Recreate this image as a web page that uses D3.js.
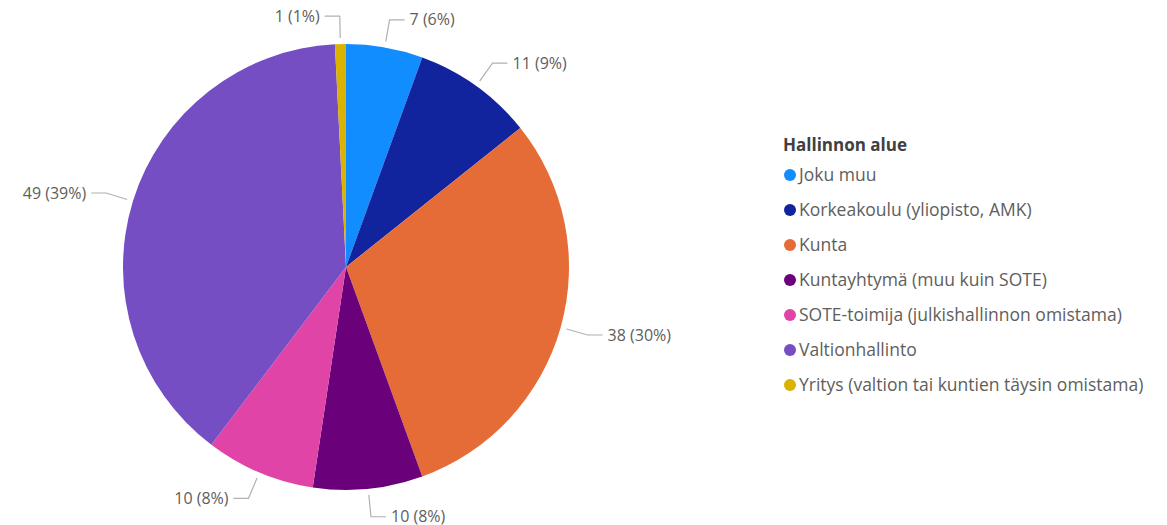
<!DOCTYPE html>
<html>
<head>
<meta charset="utf-8">
<script src="https://cdn.jsdelivr.net/npm/d3@7"></script>
<style>
  html, body { margin: 0; padding: 0; background: #fff; }
  svg { display: block; font-family: "Open Sans", "Noto Sans", sans-serif; }
</style>
</head>
<body>
<svg id="chart" width="1167" height="525"></svg>
<script>
const categories = [
  "Joku muu",
  "Korkeakoulu (yliopisto, AMK)",
  "Kunta",
  "Kuntayhtymä (muu kuin SOTE)",
  "SOTE-toimija (julkishallinnon omistama)",
  "Valtionhallinto",
  "Yritys (valtion tai kuntien täysin omistama)"
];
const counts = [7, 11, 38, 10, 10, 49, 1];
const colors = ["#118DFF", "#12239E", "#E66C37", "#6B007B", "#E044A7", "#744EC2", "#D9B300"];
const legendTitle = "Hallinnon alue";

const svg = d3.select("#chart");
const cx = 346, cy = 267, radius = 223;
const total = d3.sum(counts);

const data = categories.map((c, i) => ({ name: c, value: counts[i], color: colors[i] }));

const pie = d3.pie().value(d => d.value).sort(null).startAngle(0).endAngle(2 * Math.PI);
const arcs = pie(data);
const arc = d3.arc().innerRadius(0).outerRadius(radius);

const g = svg.append("g").attr("transform", `translate(${cx},${cy})`);

g.selectAll("path.slice")
  .data(arcs)
  .join("path")
  .attr("class", "slice")
  .attr("d", arc)
  .attr("fill", d => d.data.color);

// leader lines and value labels
const lineStart = d3.arc().innerRadius(radius + 6).outerRadius(radius + 6);
const elbowArc = d3.arc().innerRadius(radius + 28).outerRadius(radius + 28);
const horiz = 15, gap = 5;

arcs.forEach(d => {
  const p0 = lineStart.centroid(d);
  const p1 = elbowArc.centroid(d);
  const mid = (d.startAngle + d.endAngle) / 2;
  const right = mid < Math.PI;
  const p2 = [p1[0] + (right ? horiz : -horiz), p1[1]];
  g.append("polyline")
    .attr("points", [p0, p1, p2].map(p => p.join(",")).join(" "))
    .attr("fill", "none")
    .attr("stroke", "#b3b0ad")
    .attr("stroke-width", 1.2);
  const pct = Math.round(d.data.value / total * 100);
  g.append("text")
    .attr("x", p2[0] + (right ? gap : -gap))
    .attr("y", p2[1])
    .attr("dy", "0.35em")
    .attr("text-anchor", right ? "start" : "end")
    .attr("fill", "#605E5C")
    .attr("font-size", 16)
    .text(`${d.data.value} (${pct}%)`);
});

// legend
const legend = svg.append("g").attr("transform", "translate(783,0)");
legend.append("text")
  .attr("x", 0)
  .attr("y", 145)
  .attr("dy", "0.35em")
  .attr("font-weight", "bold")
  .attr("font-size", 17)
  .attr("fill", "#404040")
  .text(legendTitle);

const rowY = d3.scalePoint().domain(categories).range([175, 385]);
const items = legend.selectAll("g.item")
  .data(data)
  .join("g")
  .attr("class", "item")
  .attr("transform", d => `translate(0,${rowY(d.name)})`);
items.append("circle")
  .attr("cx", 7)
  .attr("cy", 0)
  .attr("r", 6)
  .attr("fill", d => d.color);
items.append("text")
  .attr("x", 16)
  .attr("y", 0)
  .attr("dy", "0.35em")
  .attr("font-size", 17.5)
  .attr("fill", "#605E5C")
  .text(d => d.name);
</script>
</body>
</html>
